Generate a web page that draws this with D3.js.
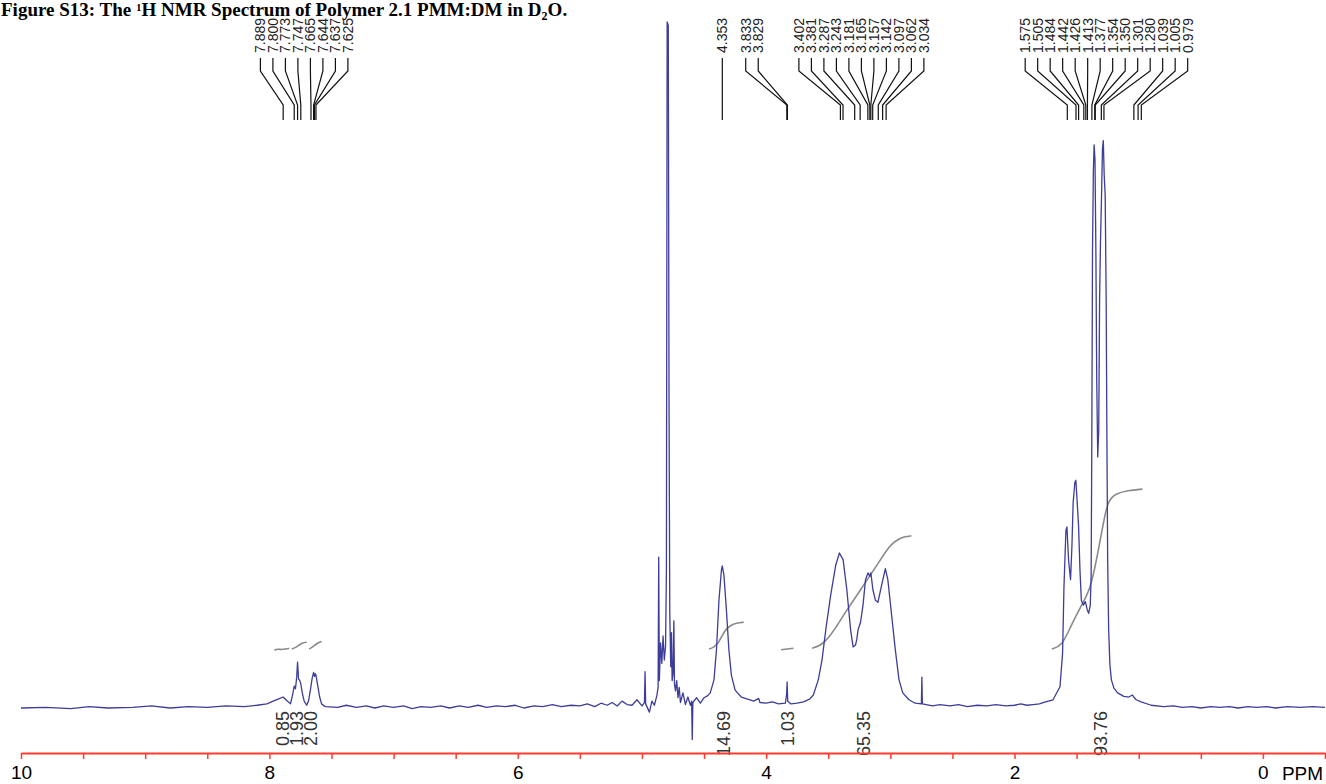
<!DOCTYPE html>
<html>
<head>
<meta charset="utf-8">
<script src="https://cdn.jsdelivr.net/npm/d3@7"></script>
<style>
  body { margin: 0; background: #fff; }
  svg { display: block; }
</style>
</head>
<body>
<svg id="chart" width="1326" height="784"></svg>
<script>
// spectrum: [ppm, intensity as % of the water peak]
var spectrum = [
  [10.0, 0], [9.8, 0.1], [9.6, -0.1], [9.45, 0.2], [9.3, 0], [9.1, 0.1], [8.95, 0.3], [8.8, 0],
  [8.65, 0.2], [8.5, 0.1], [8.35, 0.3], [8.2, 0.2], [8.1, 0.4], [8.02, 0.6],
  [7.97, 1.0], [7.93, 1.3], [7.89, 1.6], [7.86, 1.1], [7.83, 0.6], [7.81, 2.2], [7.80, 3.2], [7.79, 2.8],
  [7.78, 4.5], [7.773, 6.7], [7.765, 4.2], [7.755, 4.0], [7.747, 3.5], [7.735, 2.2], [7.72, 1.0], [7.70, 0.4],
  [7.685, 1.0], [7.67, 2.6], [7.655, 4.4], [7.644, 5.2], [7.637, 4.6], [7.63, 5.0], [7.625, 4.8], [7.61, 3.2],
  [7.595, 1.6], [7.58, 0.6], [7.55, 0.2],
  [7.45, 0.1], [7.38, 0.4], [7.3, 0.1], [7.22, 0.3], [7.15, 0], [7.08, 0.3], [7.0, 0.1], [6.92, 0.3],
  [6.85, -0.1], [6.78, 0.2], [6.7, 0.1], [6.62, 0.3], [6.55, 0], [6.47, 0.3], [6.4, 0.1], [6.32, 0.4],
  [6.25, 0.1], [6.17, 0.3], [6.1, 0.2], [6.02, 0.4], [5.95, 0], [5.87, 0.3], [5.8, 0.2], [5.72, 0.5],
  [5.65, 0.2], [5.57, 0.4], [5.5, 0.3], [5.44, 0.6], [5.38, 0.2], [5.33, 0.7], [5.28, 0.4], [5.24, 0.8],
  [5.2, 0.3], [5.16, 1.0], [5.12, 0.5], [5.08, 0.4], [5.04, 1.2], [5.0, 0.3], [4.98, 0.8], [4.975, 5.3],
  [4.97, 0.6], [4.94, -0.6], [4.92, 1.0],
  [4.9, 0.4], [4.88, 1.8], [4.87, 3.0], [4.865, 22.0], [4.86, 4.0], [4.85, 9.5], [4.84, 6.5], [4.83, 10.5],
  [4.82, 7.0], [4.81, 9.0], [4.803, 20], [4.797, 100], [4.788, 99.5], [4.782, 45], [4.776, 14], [4.768, 6],
  [4.762, 11], [4.757, 4], [4.75, 5], [4.743, 12.7], [4.738, 3.5], [4.73, 2.5], [4.72, 4.0], [4.71, 1.5],
  [4.70, 3.0], [4.69, 0.8], [4.67, 2.2], [4.65, 0.5], [4.63, 1.6], [4.61, 0.4], [4.6, 1.0], [4.595, -4.6],
  [4.59, 0.8], [4.56, 1.5], [4.53, 0.7], [4.5, 1.5], [4.47, 1.8], [4.45, 2.2],
  [4.42, 4.1], [4.40, 8.5], [4.38, 15.7], [4.36, 20.1], [4.353, 20.7], [4.34, 19.4], [4.32, 14.3], [4.30, 8.5],
  [4.28, 4.8], [4.25, 2.6], [4.2, 1.6], [4.15, 1.3], [4.1, 1.0], [4.06, 1.4], [4.05, 0.8], [4.0, 0.7],
  [3.95, 0.9], [3.9, 0.6], [3.845, 0.7], [3.835, 2.0], [3.831, 3.8], [3.826, 1.0], [3.8, 0.6], [3.75, 0.7],
  [3.70, 0.9], [3.65, 1.3], [3.62, 1.9], [3.58, 4.1], [3.55, 7.0], [3.52, 11.4], [3.48, 16.5], [3.44, 20.8],
  [3.41, 22.6], [3.38, 21.6], [3.35, 17.2], [3.32, 11.4], [3.30, 8.9], [3.28, 9.2], [3.27, 10.0], [3.26, 11.4],
  [3.24, 12.5], [3.22, 15.0], [3.20, 18.7], [3.18, 19.7], [3.165, 19.2], [3.157, 19.7], [3.14, 17.2],
  [3.12, 15.7], [3.10, 15.4], [3.07, 17.9], [3.04, 20.3], [3.02, 18.7], [2.99, 13.6], [2.96, 8.5], [2.93, 4.1],
  [2.90, 2.2], [2.85, 1.2], [2.80, 0.7], [2.75, 0.6], [2.746, 4.5], [2.742, 0.6], [2.66, 0.3], [2.6, 0.5],
  [2.52, 0.3], [2.45, 0.5], [2.38, 0.2], [2.3, 0.4], [2.22, 0.3], [2.15, 0.5], [2.07, 0.3], [2.0, 0.4],
  [1.95, 0.6], [1.9, 0.4], [1.85, 0.5], [1.8, 0.6], [1.75, 0.9], [1.69, 1.2],
  [1.634, 3.1], [1.613, 8.0], [1.602, 17.6], [1.586, 25.9], [1.578, 26.4], [1.565, 21.6], [1.549, 18.7],
  [1.538, 23.5], [1.528, 29.9], [1.514, 32.9], [1.506, 33.2], [1.495, 29.9], [1.484, 26.4], [1.473, 20.1],
  [1.462, 15.7], [1.446, 15.0], [1.43, 15.5], [1.414, 14.3], [1.403, 13.8], [1.39, 15.0], [1.383, 19.4],
  [1.378, 37.6], [1.372, 66.8], [1.365, 78.4], [1.359, 82.1], [1.352, 79.9], [1.345, 66.8], [1.338, 47.8],
  [1.330, 36.6], [1.322, 40.5], [1.315, 59.5], [1.308, 67.8], [1.300, 74.1], [1.292, 81.5], [1.285, 82.7],
  [1.278, 77.7], [1.270, 74.8], [1.262, 59.5], [1.256, 39.1], [1.250, 21.6], [1.242, 11.4], [1.232, 6.3],
  [1.22, 4.1], [1.20, 2.9], [1.17, 2.2], [1.12, 1.7], [1.08, 1.6], [1.05, 1.9], [1.04, 1.6], [1.02, 1.2],
  [0.98, 0.9], [0.9, 0.4], [0.8, 0.2], [0.72, 0.3], [0.65, 0.1], [0.57, 0.2], [0.5, 0], [0.42, 0.2],
  [0.35, 0.1], [0.27, 0.2], [0.2, 0], [0.12, 0.2], [0.05, 0.1], [-0.03, 0.2], [-0.1, 0], [-0.2, 0.2],
  [-0.3, 0.1], [-0.4, 0.2], [-0.5, 0.1]
]

// integral traces (same intensity units)
var integralAr1 = [[7.96, 8.45], [7.93, 8.6], [7.90, 8.5], [7.87, 8.6], [7.84, 8.7]]
var integralAr2 = [[7.82, 8.6], [7.79, 8.8], [7.76, 9.2], [7.73, 9.5], [7.70, 9.6]]
var integralAr3 = [[7.68, 8.6], [7.65, 8.9], [7.62, 9.4], [7.58, 9.7]]
var integral435 = [[4.46, 8.6], [4.42, 8.8], [4.38, 9.6], [4.35, 10.7], [4.32, 11.6], [4.28, 12.1], [4.24, 12.4], [4.18, 12.5]]
var integral383 = [[3.88, 8.5], [3.78, 8.7]]
var integral32 = [[3.63, 8.7], [3.56, 9.1], [3.50, 10.2], [3.45, 11.4], [3.35, 14.3], [3.24, 17.2], [3.16, 19.4],
  [3.08, 21.6], [3.00, 23.8], [2.94, 24.6], [2.88, 25.0], [2.83, 25.1]]
var integral13 = [[1.70, 8.6], [1.62, 9.0], [1.55, 11.8], [1.47, 14.7], [1.39, 17.2], [1.34, 21.6],
  [1.29, 26.4], [1.25, 30.3], [1.18, 31.3], [1.09, 31.7], [0.97, 31.9]]
var integralCurves = [integralAr1, integralAr2, integralAr3, integral435, integral383, integral32, integral13]

var integralLabels = ['0.85', '1.93', '2.00', '14.69', '1.03', '65.35', '93.76']
var integralPpm = [7.89, 7.78, 7.665, 4.34, 3.83, 3.215, 1.31]

// peak pick labels, one group per fan, with the ppm the fan is centred on
var peakGroups = [
  { anchor: 7.72, peaks: [7.889, 7.800, 7.773, 7.747, 7.665, 7.644, 7.637, 7.625] },
  { anchor: 4.353, peaks: [4.353] },
  { anchor: 4.114, peaks: [3.833, 3.829] },
  { anchor: 3.233, peaks: [3.402, 3.381, 3.287, 3.243, 3.181, 3.165, 3.157, 3.142, 3.097, 3.062, 3.034] },
  { anchor: 1.26, peaks: [1.575, 1.505, 1.484, 1.442, 1.426, 1.413, 1.377, 1.354, 1.350, 1.301, 1.280, 1.039, 1.005, 0.979] }
]

var tickValues = [10, 9.5, 9, 8.5, 8, 7.5, 7, 6.5, 6, 5.5, 5, 4.5, 4, 3.5, 3, 2.5, 2, 1.5, 1, 0.5, 0, -0.5]
var tickLabels = [10, 8, 6, 4, 2, 0]

var svg = d3.select('#chart')
var x = d3.scaleLinear().domain([10, -0.5]).range([21, 1325])
var y = d3.scaleLinear().domain([0, 100]).range([708, 22])
var axisY = 753
var pitch = 12.5

// title
var title = svg.append('text')
  .attr('x', 1)
  .attr('y', 16)
  .style('font-family', '"Liberation Serif", "Times New Roman", serif')
  .style('font-weight', 'bold')
  .style('font-size', '19px')
  .style('fill', '#000')
title.append('tspan').text('Figure S13:  The ')
title.append('tspan').attr('dy', -5).style('font-size', '11px').text('1')
title.append('tspan').attr('dy', 5).text('H NMR Spectrum of Polymer 2.1 PMM:DM in D')
title.append('tspan').attr('dy', 4).style('font-size', '12px').text('2')
title.append('tspan').attr('dy', -4).text('O.')

// integrals
var integralLine = d3.line()
  .x((d) => x(d[0]))
  .y((d) => y(d[1]))
  .curve(d3.curveBasis)

svg.append('g')
  .selectAll('path')
  .data(integralCurves)
  .enter()
  .append('path')
  .attr('d', integralLine)
  .attr('fill', 'none')
  .attr('stroke', '#8a8a8a')
  .attr('stroke-width', 1.6)

// spectrum
var specLine = d3.line()
  .x((d) => x(d[0]))
  .y((d) => y(d[1]))

svg.append('path')
  .datum(spectrum)
  .attr('d', specLine)
  .attr('fill', 'none')
  .attr('stroke', '#3d3d9a')
  .attr('stroke-width', 1.3)
  .attr('stroke-linejoin', 'round')

// integral values under the peaks
svg.append('g')
  .selectAll('text')
  .data(integralLabels)
  .enter()
  .append('text')
  .attr('transform', (d, i) => 'translate(' + x(integralPpm[i]) + ',' + (y(0) + 3) + ') rotate(-90)')
  .attr('dy', '0.35em')
  .style('text-anchor', 'end')
  .style('font-family', 'Arial, "Liberation Sans", sans-serif')
  .style('font-size', '18px')
  .style('fill', '#333')
  .text((d) => d)

// peak pick fans
var fans = svg.append('g')
peakGroups.forEach((grp) => {
  var n = grp.peaks.length
  grp.peaks.forEach((p, i) => {
    var lx = x(grp.anchor) + (i - (n - 1) / 2) * pitch
    var px = x(p)
    fans.append('path')
      .attr('d', 'M' + lx + ',58V71L' + px + ',105V120')
      .attr('fill', 'none')
      .attr('stroke', '#111')
      .attr('stroke-width', 1.2)
    fans.append('text')
      .attr('transform', 'translate(' + lx + ',53) rotate(-90)')
      .attr('dy', '0.35em')
      .style('font-family', 'Arial, "Liberation Sans", sans-serif')
      .style('font-size', '14px')
      .style('fill', '#222')
      .text(p.toFixed(3))
  })
})

// ppm axis
var axis = d3.axisBottom(x)
  .tickValues(tickValues)
  .tickSize(6)
  .tickSizeOuter(0)
  .tickPadding(7)
  .tickFormat((d) => (tickLabels.indexOf(d) >= 0 ? d : ''))

var gx = svg.append('g')
  .attr('transform', 'translate(0,' + axisY + ')')
  .call(axis)

gx.select('.domain').attr('stroke', '#ff3b30').attr('stroke-width', 2)
gx.selectAll('.tick line').attr('stroke', '#ff3b30').attr('stroke-width', 1.5)
gx.selectAll('.tick text')
  .style('font-family', 'Arial, "Liberation Sans", sans-serif')
  .style('font-size', '19px')
  .style('fill', '#000')

svg.append('text')
  .attr('x', x(0) + 19)
  .attr('y', axisY + 27)
  .style('font-family', 'Arial, "Liberation Sans", sans-serif')
  .style('font-size', '19px')
  .style('fill', '#000')
  .text('PPM')
</script>
</body>
</html>
